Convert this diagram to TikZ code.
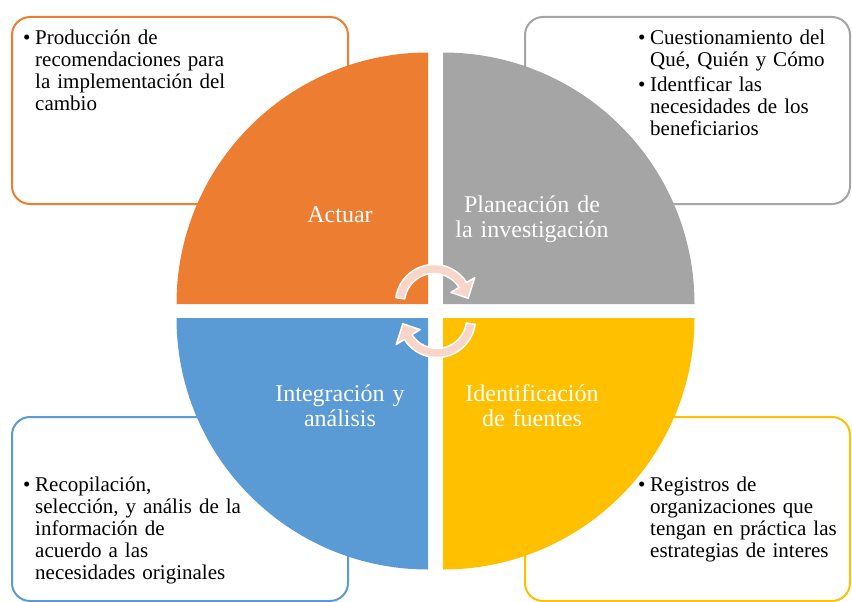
\documentclass[tikz,border=0pt]{standalone}
\usepackage{fontspec}
\setmainfont{Liberation Serif}
\definecolor{orangeq}{HTML}{ED7D31}
\definecolor{grayq}{HTML}{A5A5A5}
\definecolor{blueq}{HTML}{5B9BD5}
\definecolor{yellowq}{HTML}{FFC000}
\definecolor{arrowq}{HTML}{F8D5C8}
\newcommand{\bulletline}[1]{\noindent\hangindent=12pt\hangafter=1\makebox[12pt][l]{\textbullet}#1\par}

\begin{document}
\begin{tikzpicture}[x=1pt, y=-1pt,
    infobox/.style ={line width=2pt, rounded corners=18pt, fill=white},
    infotext/.style ={anchor=base west, inner sep=0pt, text width=230pt, align=left, font=\fontsize{21}{22}\selectfont},
    phasetext/.style ={anchor=base, inner sep=0pt, text width=200pt, align=center, text=white, font=\fontsize{24}{25}\selectfont},
    turnarrow/.style ={fill=arrowq, draw=white, line width=1.5pt, line join=round}]
   \useasboundingbox (0,0) rectangle (852,602);
   \draw[infobox, draw=orangeq] (12,17) rectangle (348,204);
   \draw[infobox, draw=grayq] (525,17) rectangle (850,204);
   \draw[infobox, draw=blueq] (12,417) rectangle (348,601);
   \draw[infobox, draw=yellowq] (525,417) rectangle (850,601);
   \fill[orangeq] (428,304) -- (176.5,304) arc[start angle=180, end angle=270, radius=251.5] -- cycle;
   \fill[grayq] (443,304) -- (443,52.5) arc[start angle=270, end angle=360, radius=251.5] -- cycle;
   \fill[blueq] (428,318) -- (176.5,318) arc[start angle=180, end angle=90, radius=251.5] -- cycle;
   \fill[yellowq] (443,318) -- (694.5,318) arc[start angle=0, end angle=90, radius=251.5] -- cycle;
   \node[phasetext] (actuar) at (340,222.5) {Actuar};
   \node[phasetext] (planeacion) at (532,212.5) {Planeación de\\la investigación};
   \node[phasetext] (integracion) at (340,401.5) {Integración y\\análisis};
   \node[phasetext] (identificacion) at (532,401.5) {Identificación\\de fuentes};
   \begin{scope}[shift={(434,303)}]
      \draw[turnarrow] (188:38.5) arc[start angle=188, end angle=328, radius=38.5] -- (328:48) -- (352:34.5) -- (328:20) -- (328:29.5) arc[start angle=328, end angle=188, radius=29.5] -- cycle;
   \end{scope}
   \begin{scope}[shift={(437,319)}, rotate=180]
      \draw[turnarrow] (188:38.5) arc[start angle=188, end angle=328, radius=38.5] -- (328:48) -- (352:34.5) -- (328:20) -- (328:29.5) arc[start angle=328, end angle=188, radius=29.5] -- cycle;
   \end{scope}
   \node[infotext] (produccion) at (23,45) {\bulletline{Producción de\newline recomendaciones para\newline la implementación del\newline cambio}};
   \node[infotext] (cuestionamiento) at (638,45) {\bulletline{Cuestionamiento del\newline Qué, Quién y Cómo}\vspace{3pt}\bulletline{Identficar las\newline necesidades de los\newline beneficiarios}};
   \node[infotext] (recopilacion) at (23,491.5) {\bulletline{Recopilación,\newline selección, y anális de la\newline información de\newline acuerdo a las\newline necesidades originales}};
   \node[infotext] (registros) at (638,491.5) {\bulletline{Registros de\newline organizaciones que\newline tengan en práctica las\newline estrategias de interes}};
 \end{tikzpicture}
\end{document}
